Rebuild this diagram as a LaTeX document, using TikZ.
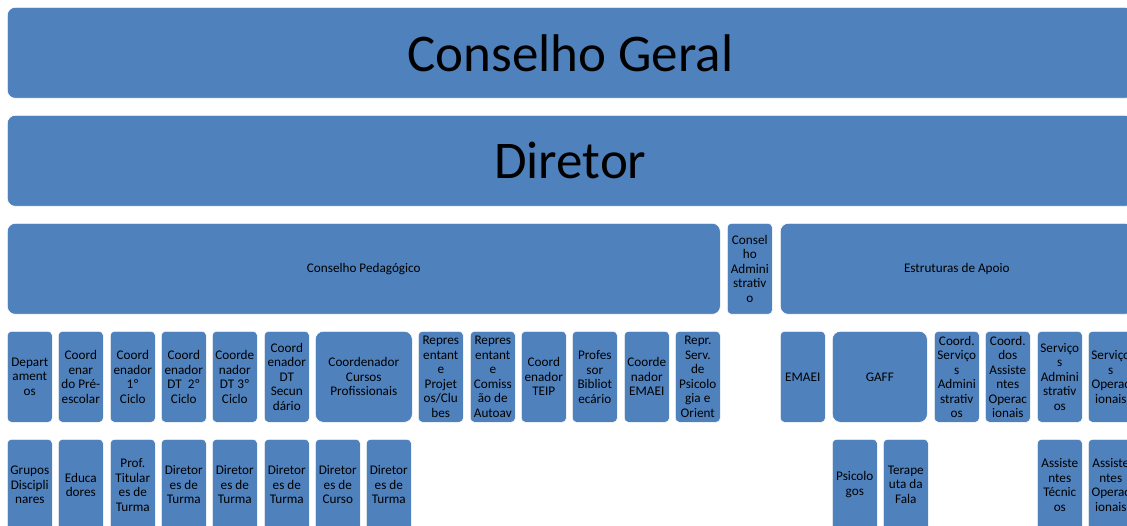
\documentclass[tikz,border=0pt]{standalone}
\usepackage{fontspec}
\setmainfont{Carlito}
\definecolor{caixa}{HTML}{4F81BD}

\begin{document}
\begin{tikzpicture}[x=1pt, y=-1pt]
    % Área visível do organograma
    \useasboundingbox (0,0) rectangle (1127,526);
    \clip (0,0) rectangle (1127,526);

    % Estilos das caixas
    \tikzset{
        c_base/.style={fill=caixa, draw=white, line width=0.6pt, anchor=north west, inner sep=0pt, align=center, minimum height=91pt, text=black},
        c_topo/.style={c_base, rounded corners=8pt, minimum width=1126pt, font=\fontsize{53}{60}\selectfont},
        c_grupo/.style={c_base, rounded corners=8pt, font=\fontsize{13.2}{14.5}\selectfont},
        c_estr/.style={c_base, rounded corners=4pt, minimum width=45pt, font=\fontsize{13.2}{14.5}\selectfont},
        c_larga/.style={c_base, rounded corners=8pt, font=\fontsize{13.2}{14.5}\selectfont}
    }

    % Órgãos de topo
    \node[c_topo] (geral) at (7,7) {Conselho Geral};
    \node[c_topo] (diretor) at (7,115) {Diretor};

    % Conselhos e estruturas
    \node[c_grupo, minimum width=713pt] (pedag) at (7,223) {Conselho Pedagógico};
    \node[c_estr] (admin) at (727,223) {Consel\\ho\\Admini\\strativ\\o};
    \node[c_grupo, minimum width=353pt] (apoio) at (780,223) {Estruturas de Apoio};

    % Coordenações do Conselho Pedagógico
    \node[c_estr] (depart) at (7,331) {Depart\\ament\\os};
    \node[c_estr] (cpre) at (58,331) {Coord\\enar\\do Pré-\\escolar};
    \node[c_estr] (cciclo1) at (110,331) {Coord\\enador\\1º\\Ciclo};
    \node[c_estr] (cdt2) at (161,331) {Coord\\enador\\DT~~2º\\Ciclo};
    \node[c_estr] (cdt3) at (212,331) {Coorde\\nador\\DT 3º\\Ciclo};
    \node[c_estr] (cdtsec) at (264,331) {Coord\\enador\\DT\\Secun\\dário};
    \node[c_larga, minimum width=97pt] (ccursos) at (315,331) {Coordenador\\Cursos\\Profissionais};
    \node[c_estr] (rproj) at (418,331) {Repres\\entant\\e\\Projet\\os/Clu\\bes};
    \node[c_estr] (rcomiss) at (470,331) {Repres\\entant\\e\\Comiss\\ão de\\Autoav};
    \node[c_estr] (cteip) at (521,331) {Coord\\enador\\TEIP};
    \node[c_estr] (pbib) at (572,331) {Profes\\sor\\Bibliot\\ecário};
    \node[c_estr] (cemaei) at (624,331) {Coorde\\nador\\EMAEI};
    \node[c_estr] (rpsico) at (675,331) {Repr.\\Serv.\\de\\Psicolo\\gia e\\Orient};

    % Estruturas de apoio
    \node[c_estr] (emaei) at (780,331) {EMAEI};
    \node[c_larga, minimum width=95pt] (gaff) at (832,331) {GAFF};
    \node[c_estr] (csadm) at (934,331) {Coord.\\Serviço\\s\\Admini\\strativ\\os};
    \node[c_estr] (cassop) at (985,331) {Coord.\\dos\\Assiste\\ntes\\Operac\\ionais};
    \node[c_estr] (sadm) at (1037,331) {Serviço\\s\\Admini\\strativ\\os};
    \node[c_estr] (sop) at (1088,331) {Serviço\\s\\Operac\\ionais};

    % Último nível
    \node[c_estr] (grupos) at (7,439) {Grupos\\Discipli\\nares};
    \node[c_estr] (educ) at (58,439) {Educa\\dores};
    \node[c_estr] (ptit) at (110,439) {Prof.\\Titular\\es de\\Turma};
    \node[c_estr] (dturma1) at (161,439) {Diretor\\es de\\Turma};
    \node[c_estr] (dturma2) at (212,439) {Diretor\\es de\\Turma};
    \node[c_estr] (dturma3) at (264,439) {Diretor\\es de\\Turma};
    \node[c_estr] (dcurso) at (315,439) {Diretor\\es de\\Curso};
    \node[c_estr] (dturma4) at (366,439) {Diretor\\es de\\Turma};
    \node[c_estr] (psicol) at (832,439) {Psicolo\\gos};
    \node[c_estr] (terap) at (883,439) {Terape\\uta da\\Fala};
    \node[c_estr] (atec) at (1037,439) {Assiste\\ntes\\Técnic\\os};
    \node[c_estr] (aop) at (1088,439) {Assiste\\ntes\\Operac\\ionais};
\end{tikzpicture}
\end{document}
